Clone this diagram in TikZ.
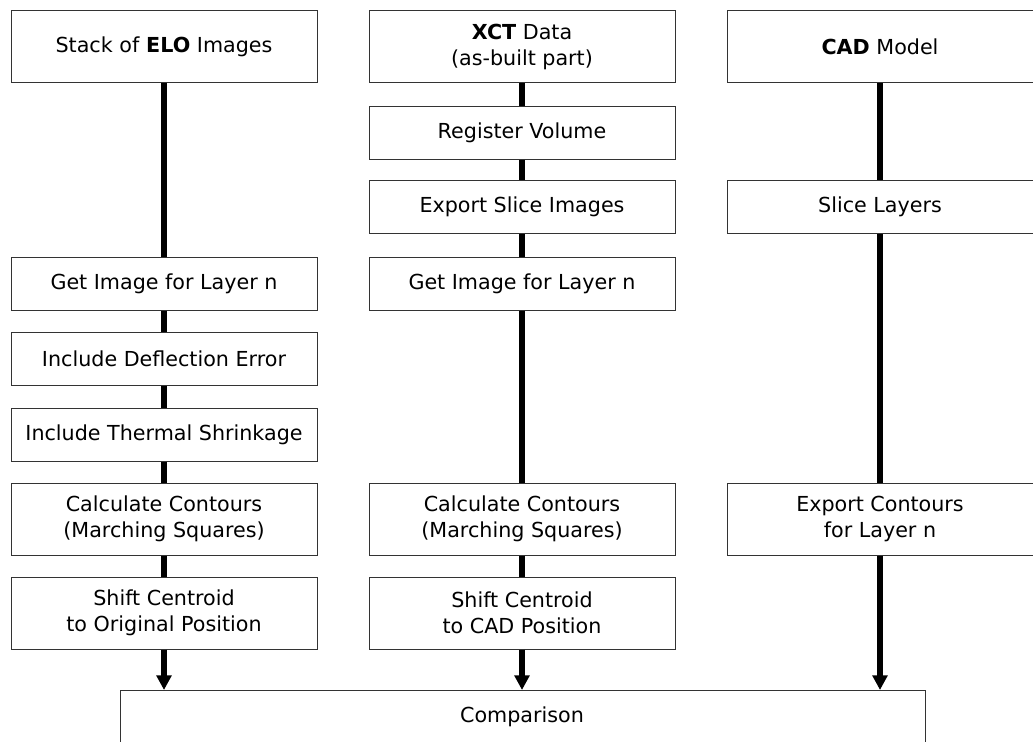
\documentclass[tikz,border=0pt]{standalone}
\usepackage{fontspec}
\setmainfont{DejaVu Sans}
\usetikzlibrary{arrows.meta}
\tikzset{
  px/.style={x=0.75pt,y=-0.75pt},
  box/.style={draw=black!80, line width=0.75pt, fill=white, minimum width=229.5pt,
    inner sep=0pt, align=center, font=\fontsize{15.5}{19.5}\selectfont},
  one/.style={box, minimum height=39.75pt},
  two/.style={box, minimum height=54pt},
  conn/.style={line width=4.5pt},
  arr/.style={line width=4.5pt, -{Triangle[length=11pt,width=11pt]}}
}
\begin{document}
\begin{tikzpicture}[px]
\useasboundingbox (0,0) rectangle (1033,742);
% column 1
\node[two] (elo) at (164,47) {Stack of \textbf{ELO} Images};
\node[one] (g1) at (164,283.5) {Get Image for Layer n};
\node[one] (def) at (164,358.5) {Include Deflection Error};
\node[one] (th) at (164,434.5) {Include Thermal Shrinkage};
\node[two] (c1) at (164,519) {Calculate Contours\\(Marching Squares)};
\node[two] (s1) at (164,613) {Shift Centroid\\to Original Position};
% column 2
\node[two] (xct) at (522,47) {\textbf{XCT} Data\\(as-built part)};
\node[one] (reg) at (522,133) {Register Volume};
\node[one] (exp) at (522,207) {Export Slice Images};
\node[one] (g2) at (522,283.5) {Get Image for Layer n};
\node[two] (c2) at (522,519) {Calculate Contours\\(Marching Squares)};
\node[two] (s2) at (522,613) {Shift Centroid\\to CAD Position};
% column 3
\node[two] (cad) at (880,47) {\textbf{CAD} Model};
\node[one] (sl) at (880,207) {Slice Layers};
\node[two] (ec) at (880,519) {Export Contours\\for Layer n};
% comparison
\draw[draw=black!80, line width=0.75pt, fill=white] (120,770) -- (120,690) -- (925,690) -- (925,770);
\node[font=\fontsize{15.5}{19.5}\selectfont] (cmp) at (522,717) {Comparison};
\coordinate (t1) at (164,690);
\coordinate (t2) at (522,690);
\coordinate (t3) at (880,690);
% connectors
\draw[conn] (elo) -- (g1);
\draw[conn] (g1) -- (def);
\draw[conn] (def) -- (th);
\draw[conn] (th) -- (c1);
\draw[conn] (c1) -- (s1);
\draw[arr] (s1) -- (t1);
\draw[conn] (xct) -- (reg);
\draw[conn] (reg) -- (exp);
\draw[conn] (exp) -- (g2);
\draw[conn] (g2) -- (c2);
\draw[conn] (c2) -- (s2);
\draw[arr] (s2) -- (t2);
\draw[conn] (cad) -- (sl);
\draw[conn] (sl) -- (ec);
\draw[arr] (ec) -- (t3);
\end{tikzpicture}
\end{document}
